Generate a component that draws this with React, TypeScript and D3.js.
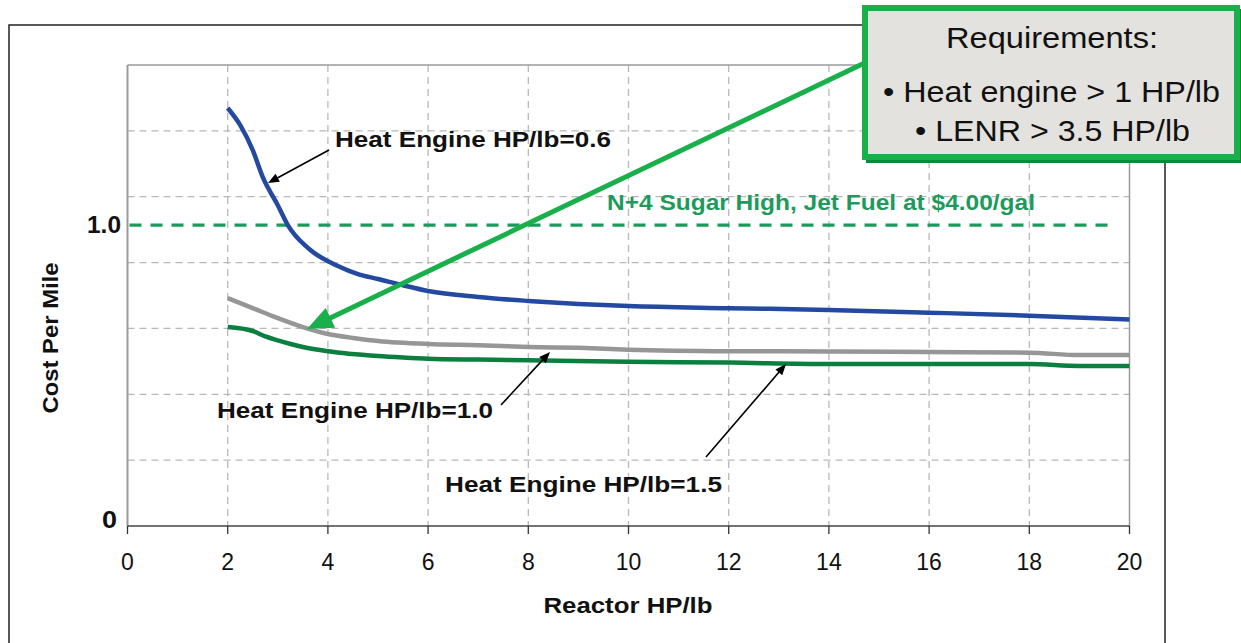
import React from "react";
import * as d3 from "d3";

// ---------- data ----------
const xTicks = [0, 2, 4, 6, 8, 10, 12, 14, 16, 18, 20];
const yLabels = [
  { value: 0, text: "0" },
  { value: 1.0, text: "1.0" },
];
const yMax = 1.532;
const yGridCount = 7;

const blueX = [2, 2.25, 2.5, 2.7, 3.0, 3.2, 3.6, 4.2, 4.6, 5, 5.5, 6, 7, 8, 9, 10, 12, 14, 16, 18, 20];
const blueY = [1.389, 1.332, 1.249, 1.159, 1.066, 1.0, 0.924, 0.864, 0.837, 0.821, 0.8, 0.781, 0.761, 0.748, 0.738, 0.731, 0.724, 0.718, 0.709, 0.699, 0.686];

const grayX = [2, 2.5, 3, 3.5, 4, 4.5, 5, 6, 7, 8, 9, 10, 12, 14, 16, 18, 19, 20];
const grayY = [0.757, 0.724, 0.691, 0.661, 0.638, 0.625, 0.615, 0.605, 0.601, 0.595, 0.592, 0.586, 0.581, 0.58, 0.578, 0.576, 0.568, 0.568];

const greenX = [2, 2.5, 2.75, 3, 3.5, 4, 5, 5.5, 6, 7, 8, 10, 12, 14, 16, 18, 19, 20];
const greenY = [0.661, 0.648, 0.63, 0.617, 0.595, 0.581, 0.565, 0.56, 0.556, 0.553, 0.551, 0.546, 0.543, 0.538, 0.538, 0.538, 0.532, 0.532];

const refValue = 1.0;
const refLabel = "N+4 Sugar High, Jet Fuel at $4.00/gal";
const seriesLabels = ["Heat Engine HP/lb=0.6", "Heat Engine HP/lb=1.0", "Heat Engine HP/lb=1.5"];
const xTitle = "Reactor HP/lb";
const yTitle = "Cost Per Mile";
const boxTitle = "Requirements:";
const boxLines = ["• Heat engine > 1 HP/lb", "• LENR > 3.5 HP/lb"];

const FONT = "'Liberation Sans', Arial, Helvetica, sans-serif";

export default function App() {
  const x = d3.scaleLinear().domain([0, 20]).range([127.5, 1129.5]);
  const y = d3.scaleLinear().domain([0, yMax]).range([526, 65]);
  const line = d3
    .line<[number, number]>()
    .x((d) => x(d[0]))
    .y((d) => y(d[1]))
    .curve(d3.curveMonotoneX);

  const zip = (a: number[], b: number[]) => a.map((v, i) => [v, b[i]] as [number, number]);
  const gridY = d3.range(1, yGridCount).map((i) => (yMax / yGridCount) * i);

  const arrowHead = (x1: number, y1: number, x2: number, y2: number, len: number, w: number) => {
    const a = Math.atan2(y2 - y1, x2 - x1);
    const bx = x2 - len * Math.cos(a);
    const by = y2 - len * Math.sin(a);
    const px = -Math.sin(a) * w;
    const py = Math.cos(a) * w;
    return `M${x2},${y2}L${bx + px},${by + py}L${bx - px},${by - py}Z`;
  };

  const blackArrows = [
    [329, 150, 268, 183],
    [501, 405, 550, 352],
    [706, 457, 786, 364],
  ];

  // big green arrow
  const gx1 = 875, gy1 = 58, gx2 = 307, gy2 = 329;
  const ga = Math.atan2(gy2 - gy1, gx2 - gx1);
  const gEndX = gx2 - 20 * Math.cos(ga);
  const gEndY = gy2 - 20 * Math.sin(ga);

  return (
    <svg
      width={1241}
      height={643}
      style={{ position: "absolute", left: 0, top: 0, background: "#fff" }}
      fontFamily={FONT}
    >
      {/* outer frame */}
      <rect x={9} y={25} width={1156} height={700} fill="#fff" stroke="#222" strokeWidth={1.5} />

      {/* gridlines */}
      {gridY.map((v, i) => (
        <line key={"gy" + i} x1={x(0)} x2={x(20)} y1={y(v)} y2={y(v)} stroke="#b8b8b8" strokeWidth={1.3} strokeDasharray="7,5" />
      ))}
      {xTicks.slice(1, -1).map((t) => (
        <line key={"gx" + t} x1={x(t)} x2={x(t)} y1={y(yMax)} y2={y(0)} stroke="#b8b8b8" strokeWidth={1.3} strokeDasharray="7,5" />
      ))}

      {/* plot frame */}
      <line x1={x(0)} x2={x(20)} y1={y(yMax)} y2={y(yMax)} stroke="#9a9a9a" strokeWidth={1.5} />
      <line x1={x(0)} x2={x(0)} y1={y(yMax)} y2={y(0)} stroke="#9a9a9a" strokeWidth={2} />
      <line x1={x(20)} x2={x(20)} y1={y(yMax)} y2={y(0)} stroke="#9a9a9a" strokeWidth={1.5} />
      <line x1={x(0)} x2={x(20)} y1={y(0)} y2={y(0)} stroke="#444" strokeWidth={1.5} />
      {xTicks.map((t) => (
        <g key={"xt" + t}>
          <line x1={x(t)} x2={x(t)} y1={y(0)} y2={y(0) + 8} stroke="#333" strokeWidth={1.3} />
          <text x={x(t)} y={570} textAnchor="middle" fontSize={23} fill="#111">
            {t}
          </text>
        </g>
      ))}

      {/* reference line */}
      <line x1={x(0) + 2} x2={1116} y1={y(refValue)} y2={y(refValue)} stroke="#1b9a5c" strokeWidth={3.2} strokeDasharray="12,9" />
      <text x={607} y={210} fontSize={22} fontWeight="bold" fill="#1e9a5c" textLength={428} lengthAdjust="spacingAndGlyphs">
        {refLabel}
      </text>

      {/* series */}
      <path d={line(zip(greenX, greenY)) || ""} fill="none" stroke="#0a7f3f" strokeWidth={4.5} />
      <path d={line(zip(grayX, grayY)) || ""} fill="none" stroke="#969696" strokeWidth={4.5} />
      <path d={line(zip(blueX, blueY)) || ""} fill="none" stroke="#2449a0" strokeWidth={4.5} />

      {/* y labels */}
      {yLabels.map((l) => (
        <text
          key={l.text}
          x={l.value === 0 ? 117 : 121}
          y={y(l.value) + (l.value === 0 ? 2 : 8)}
          textAnchor="end"
          fontSize={23}
          fontWeight="bold"
          fill="#111"
          textLength={l.value === 0 ? 15 : 34}
          lengthAdjust="spacingAndGlyphs"
        >
          {l.text}
        </text>
      ))}

      {/* axis titles */}
      <text x={628} y={613} textAnchor="middle" fontSize={22} fontWeight="bold" fill="#111" textLength={169} lengthAdjust="spacingAndGlyphs">
        {xTitle}
      </text>
      <text transform="translate(58,338) rotate(-90)" textAnchor="middle" fontSize={22} fontWeight="bold" fill="#111" textLength={151} lengthAdjust="spacingAndGlyphs">
        {yTitle}
      </text>

      {/* series annotations */}
      <text x={335} y={147} fontSize={22} fontWeight="bold" fill="#111" textLength={276} lengthAdjust="spacingAndGlyphs">
        {seriesLabels[0]}
      </text>
      <text x={217} y={418} fontSize={22} fontWeight="bold" fill="#111" textLength={276} lengthAdjust="spacingAndGlyphs">
        {seriesLabels[1]}
      </text>
      <text x={445} y={492} fontSize={22} fontWeight="bold" fill="#111" textLength={277} lengthAdjust="spacingAndGlyphs">
        {seriesLabels[2]}
      </text>
      {blackArrows.map((a, i) => {
        const ang = Math.atan2(a[3] - a[1], a[2] - a[0]);
        return (
          <g key={"ba" + i}>
            <line x1={a[0]} y1={a[1]} x2={a[2] - 8 * Math.cos(ang)} y2={a[3] - 8 * Math.sin(ang)} stroke="#000" strokeWidth={1.6} />
            <path d={arrowHead(a[0], a[1], a[2], a[3], 11, 4.5)} fill="#000" />
          </g>
        );
      })}

      {/* big green arrow */}
      <line x1={gx1} y1={gy1} x2={gEndX} y2={gEndY} stroke="#19b04b" strokeWidth={5} />
      <path d={arrowHead(gx1, gy1, gx2, gy2, 26, 11)} fill="#19b04b" />

      {/* requirements box */}
      <rect x={866} y={9} width={376} height={154} fill="#0c8a3a" />
      <rect x={865} y={8} width={372} height={149} fill="#e3e2de" stroke="#19b04b" strokeWidth={6} />
      <text x={1052} y={48} textAnchor="middle" fontSize={30} fill="#111" textLength={212} lengthAdjust="spacingAndGlyphs">
        {boxTitle}
      </text>
      <text x={1051.5} y={102} textAnchor="middle" fontSize={30} fill="#111" textLength={337} lengthAdjust="spacingAndGlyphs">
        {boxLines[0]}
      </text>
      <text x={1052.5} y={141} textAnchor="middle" fontSize={30} fill="#111" textLength={275} lengthAdjust="spacingAndGlyphs">
        {boxLines[1]}
      </text>
    </svg>
  );
}
